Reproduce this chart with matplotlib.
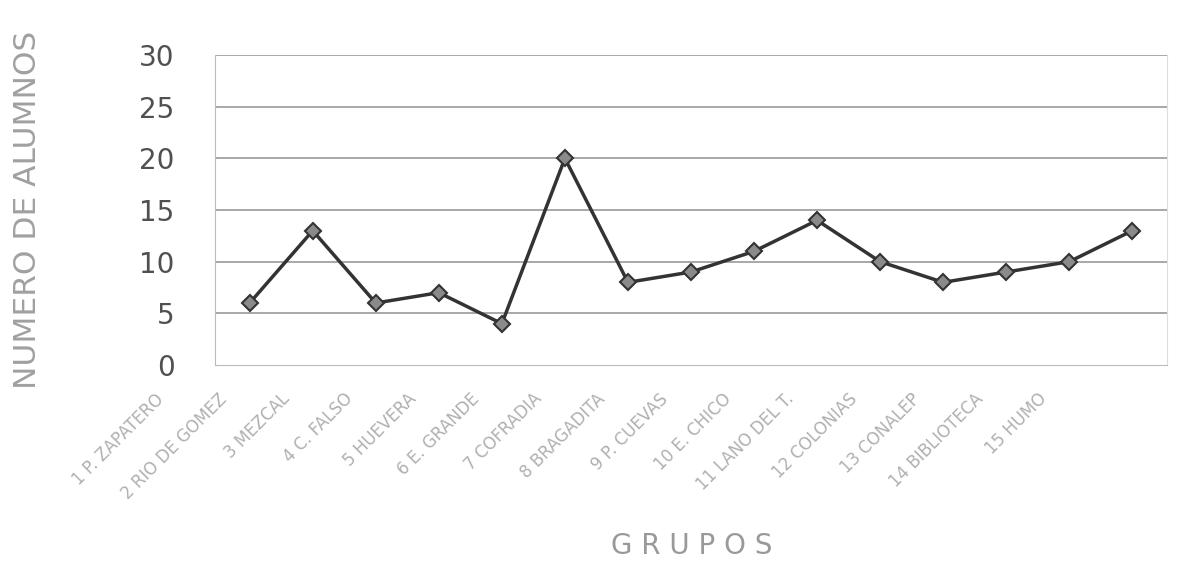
import matplotlib
matplotlib.use("Agg")
import matplotlib.pyplot as plt
import matplotlib.transforms as mtransforms

groups = ["1 P. ZAPATERO", "2 RIO DE GOMEZ", "3 MEZCAL", "4 C. FALSO", "5 HUEVERA",
          "6 E. GRANDE", "7 COFRADIA", "8 BRAGADITA", "9 P. CUEVAS", "10 E. CHICO",
          "11 LANO DEL T.", "12 COLONIAS", "13 CONALEP", "14 BIBLIOTECA", "15 HUMO"]
alumnos = [6, 13, 6, 7, 4, 20, 8, 9, 11, 14, 10, 8, 9, 10, 13]
yticks = [0, 5, 10, 15, 20, 25, 30]

fig = plt.figure(figsize=(11.87, 5.87), dpi=100)
ax = fig.add_axes([215/1187, 1-365/587, (1167-215)/1187, (365-55)/587])

x = list(range(len(groups)))
ax.plot(x, alumnos, color="#333333", lw=2.5, marker="D", markersize=8.5,
        markerfacecolor="#8a8a8a", markeredgecolor="#333333", markeredgewidth=1.5, zorder=3)

ax.set_xlim(-0.55, len(groups) - 0.45)
ax.set_ylim(0, 30)
ax.set_yticks(yticks)
ax.set_yticklabels([str(v) for v in yticks], fontsize=20, color="#505050")
ax.tick_params(axis="y", length=0, pad=29)
for v in yticks[1:]:
    ax.axhline(v, color="#9a9a9a", lw=1.2, zorder=1)

ax.set_xticks(x)
ax.set_xticklabels(groups, rotation=45, ha="right", rotation_mode="anchor",
                   fontsize=12, color="#b0b0b0")
ax.tick_params(axis="x", length=0, pad=18)
offset = mtransforms.ScaledTranslation(-0.95, 0, fig.dpi_scale_trans)
for lbl in ax.get_xticklabels():
    lbl.set_transform(lbl.get_transform() + offset)

ax.spines["top"].set_visible(False)
ax.spines["left"].set_color("#bbbbbb")
ax.spines["right"].set_color("#dddddd")
ax.spines["bottom"].set_color("#bbbbbb")

fig.text(28/1187, 1-210/587, "NUMERO DE ALUMNOS", rotation=90, ha="center", va="center",
         fontsize=22.5, color="#a0a0a0")
fig.text(692/1187, 1-546/587, "G R U P O S", ha="center", va="center",
         fontsize=20, color="#999999")

fig.savefig("out.png", dpi=100, facecolor="white")
